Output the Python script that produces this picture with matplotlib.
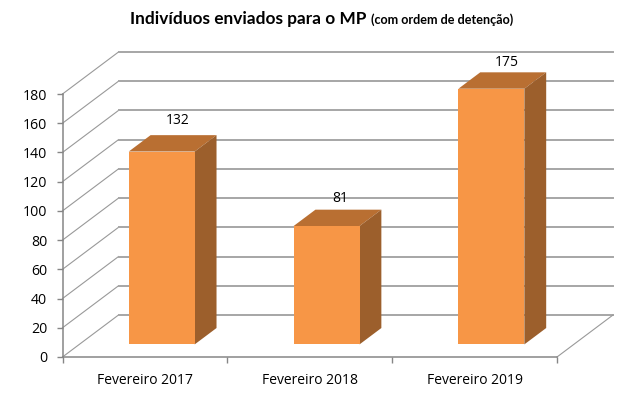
#!/usr/bin/env python3
import matplotlib
matplotlib.use('Agg')
import matplotlib.pyplot as plt
from matplotlib.patches import Polygon

categories = ['Fevereiro 2017', 'Fevereiro 2018', 'Fevereiro 2019']
values = [132, 81, 175]
y_ticks = [0, 20, 40, 60, 80, 100, 120, 140, 160, 180]

W, H = 644, 394
FONT = 'Open Sans'
TITLE_FONT = 'Lato'

# deslocamento da profundidade 3D, em unidades dos dados
DEPTH_X = 56 / 164.83
DEPTH_Y = 42 / (263 / 180)
BAR_W = 0.40
Z0, Z1 = 0.30, 0.69
LABEL_DX = [-4, -6, -4.5]  # pontos, em relacao ao centro da barra
LABEL_DY = [10.5, 8, 7]

FRONT = '#F79646'
TOP = '#B96F32'
SIDE = '#9C5F2C'
GRID = '#A6A6A6'
DIAG = '#999999'
AXIS = '#868686'


def proj(x, y, z=0.0):
    return x + z * DEPTH_X, y + z * DEPTH_Y


fig = plt.figure(figsize=(W / 100, H / 100), dpi=100, facecolor='white')
ax = fig.add_axes([62.5 / W, 1 - 357 / H, 494.5 / W, 263 / H])
ax.set_xlim(0, 3)
ax.set_ylim(0, 180)
ax.patch.set_visible(False)

# paredes: linhas de grade na parede lateral e no fundo
for v in y_ticks:
    ax.plot(*zip(proj(0, v, 0), proj(0, v, 1)), color=DIAG, lw=0.8, clip_on=False, zorder=1)
    ax.plot(*zip(proj(0, v, 1), proj(3, v, 1)), color=GRID, lw=1.4, clip_on=False, zorder=1)
ax.plot(*zip(proj(3, 0, 0), proj(3, 0, 1)), color=DIAG, lw=0.8, clip_on=False, zorder=1)

# barras
for i, v in enumerate(values):
    x0 = i + 0.5 - BAR_W / 2
    x1 = i + 0.5 + BAR_W / 2
    faces = [
        ([proj(x0, v, Z0), proj(x1, v, Z0), proj(x1, v, Z1), proj(x0, v, Z1)], TOP),
        ([proj(x1, 0, Z0), proj(x1, v, Z0), proj(x1, v, Z1), proj(x1, 0, Z1)], SIDE),
        ([proj(x0, 0, Z0), proj(x1, 0, Z0), proj(x1, v, Z0), proj(x0, v, Z0)], FRONT),
    ]
    for pts, c in faces:
        ax.add_patch(Polygon(pts, closed=True, facecolor=c, edgecolor='none', clip_on=False, zorder=3))
    lx, ly = proj(i + 0.5, v, Z1)
    ax.annotate(str(v), (lx, ly), xytext=(LABEL_DX[i], LABEL_DY[i]), textcoords='offset points',
                ha='center', va='center', fontsize=10, family=FONT, color='black',
                annotation_clip=False, zorder=4)

# eixos
for s in ['top', 'right']:
    ax.spines[s].set_visible(False)
for s in ['left', 'bottom']:
    ax.spines[s].set_color(AXIS)
    ax.spines[s].set_linewidth(1.1)
ax.set_yticks(y_ticks)
ax.set_xticks([0, 1, 2, 3])
ax.set_xticklabels([])
ax.set_xticks([0.5, 1.5, 2.5], minor=True)
ax.set_xticklabels(categories, minor=True, fontsize=10, family=FONT)
ax.tick_params(axis='x', which='major', length=4, width=1, color=AXIS)
ax.tick_params(axis='x', which='minor', length=0, pad=11.5)
ax.tick_params(axis='y', length=4, width=1, color=AXIS, pad=7, labelsize=10.2)
for t in ax.get_yticklabels():
    t.set_family(FONT)

# titulo em dois tamanhos
fig.text(130 / W, 1 - 19 / H, 'Indivíduos enviados para o MP', fontsize=12.4, fontweight='bold',
         family=TITLE_FONT, ha='left', va='center')
fig.text(371 / W, 1 - 20 / H, '(com ordem de detenção)', fontsize=9.1, fontweight='bold',
         family=TITLE_FONT, ha='left', va='center')

fig.savefig('out.png', dpi=100, facecolor='white')
